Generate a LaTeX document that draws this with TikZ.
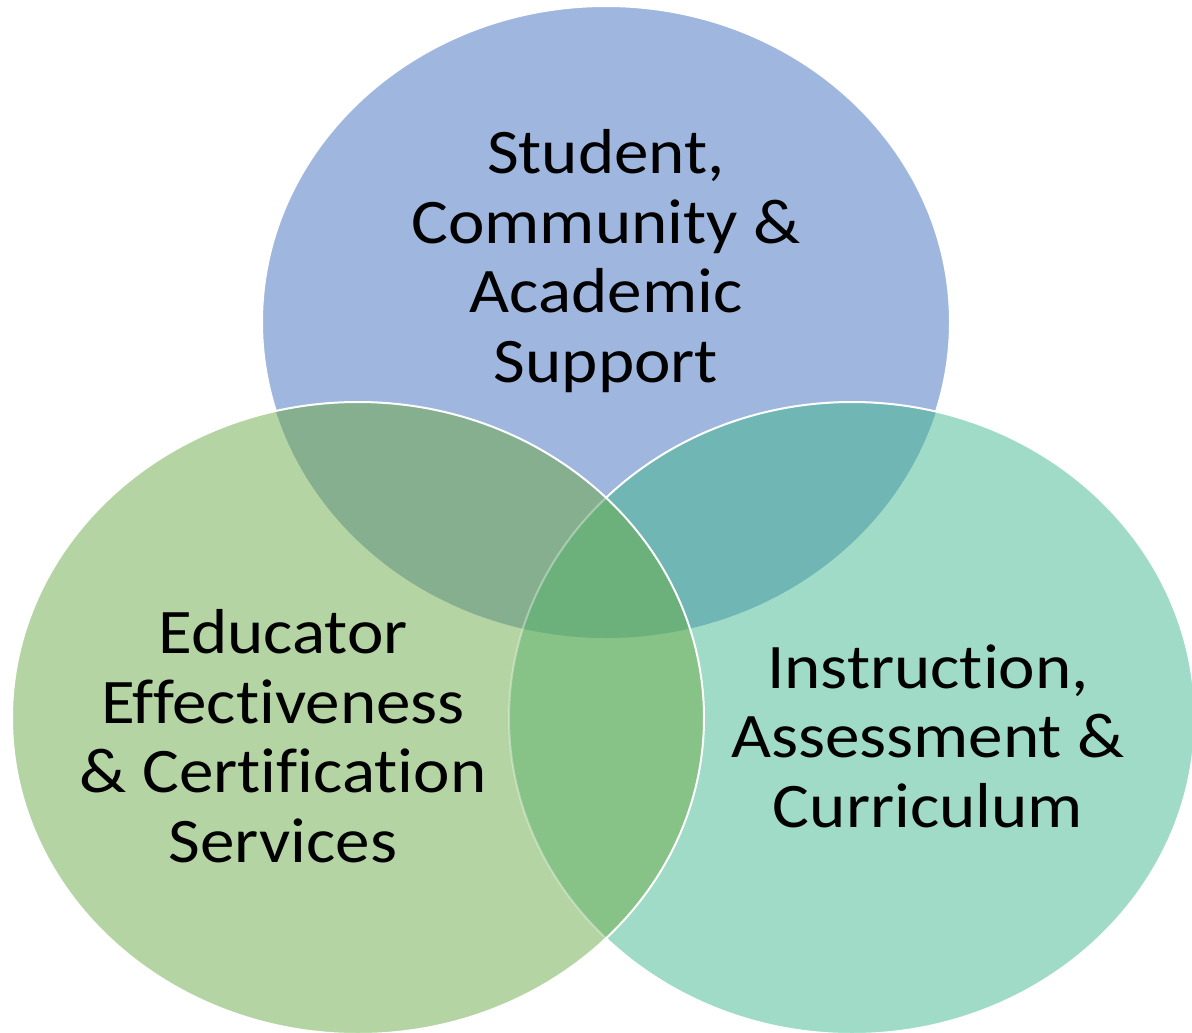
\documentclass[tikz,border=0pt]{standalone}
\usepackage{fontspec}
\setmainfont{Carlito}[Ligatures={NoCommon}]
\definecolor{cblue}{HTML}{9FB6DF}
\definecolor{cgreen}{HTML}{B5D4A3}
\definecolor{cteal}{HTML}{9FDBC6}
\definecolor{cbg}{HTML}{86AF8F}
\definecolor{cbt}{HTML}{6FB6B5}
\definecolor{cgt}{HTML}{87C286}
\definecolor{cctr}{HTML}{6CB07C}
\begin{document}
\begin{tikzpicture}[x=1pt,y=1pt,
  topE/.style={insert path={(606,-322) ellipse [x radius=344, y radius=316]}},
  leftE/.style={insert path={(358,-718) ellipse [x radius=346, y radius=316]}},
  rightE/.style={insert path={(852,-718) ellipse [x radius=343, y radius=316]}},
  outl/.style={draw=white, line width=2pt},
  label/.style={align=center, inner sep=0pt, anchor=base, text=black,
    xscale=1.088, font=\fontsize{63.5}{69.5}\selectfont}]
\useasboundingbox (0,0) rectangle (1192,-1033);
% top (blue)
\fill[cblue, topE];
\draw[outl, topE];
% right (teal)
\fill[cteal, rightE];
\begin{scope}
  \clip[topE];
  \fill[cbt, rightE];
\end{scope}
\draw[outl, rightE];
% left (green)
\fill[cgreen, leftE];
\begin{scope}
  \clip[topE];
  \fill[cbg, leftE];
\end{scope}
\begin{scope}
  \clip[rightE];
  \fill[cgt, leftE];
  \clip[topE];
  \fill[cctr, leftE];
\end{scope}
\begin{scope}
  \clip[leftE];
  \draw[outl, draw opacity=0.35, rightE];
\end{scope}
\draw[outl, leftE];
% labels
\node[label] (topL) at (606,-382) {Student,\\Community \&\\Academic\\Support};
\node[label] (leftL) at (283,-862) {Educator\\Effectiveness\\\& Certification\\Services};
\node[label] (rightL) at (928,-827) {Instruction,\\Assessment \&\\Curriculum};
\end{tikzpicture}
\end{document}
